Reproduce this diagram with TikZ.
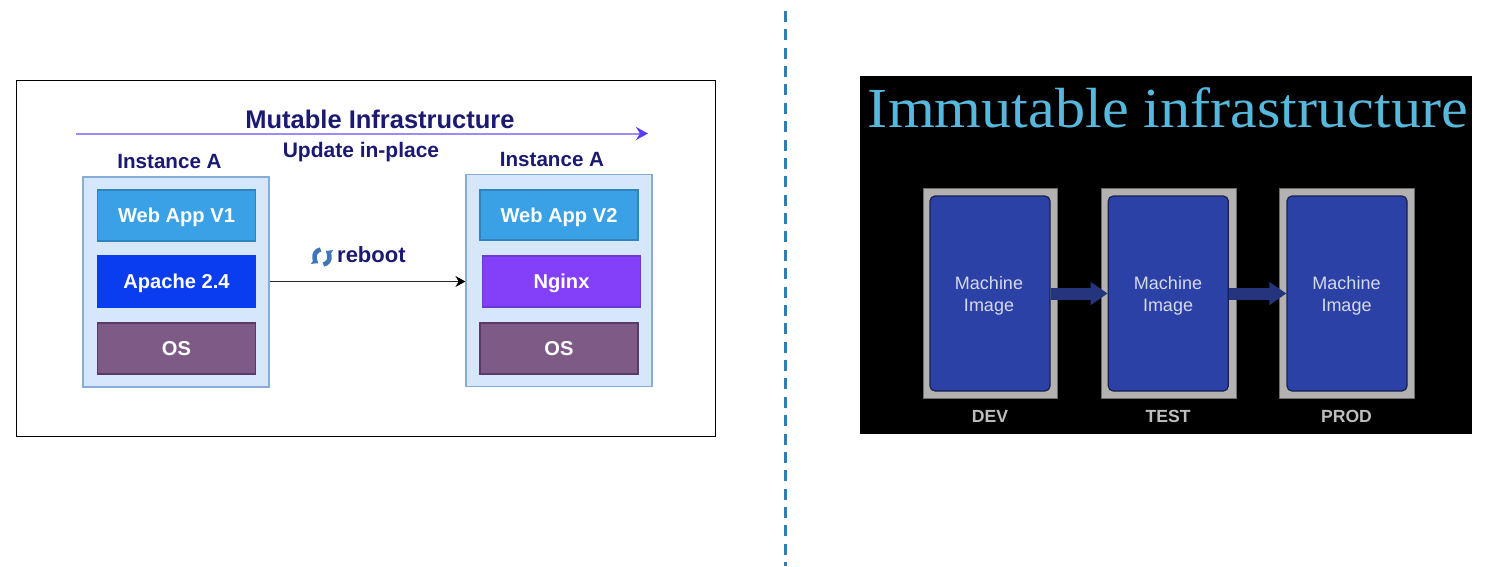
\documentclass[tikz,border=0pt]{standalone}
\usepackage{fontspec}
\setmainfont{Liberation Sans}
\newfontfamily\serifttl{Liberation Serif}
\usetikzlibrary{arrows.meta}
\definecolor{navy}{HTML}{1B1A70}
\definecolor{contfill}{HTML}{D6E6FB}
\definecolor{contline}{HTML}{86ACD8}
\definecolor{webfill}{HTML}{3BA1E6}
\definecolor{webline}{HTML}{2F84BE}
\definecolor{apfill}{HTML}{0A3CF0}
\definecolor{ngfill}{HTML}{8440F8}
\definecolor{ngline}{HTML}{6B38D0}
\definecolor{osfill}{HTML}{7E5B87}
\definecolor{osline}{HTML}{5A3A68}
\definecolor{arrowline}{HTML}{9A8CFF}
\definecolor{arrowtipc}{HTML}{5A3DFF}
\definecolor{dashblue}{HTML}{2F7DB3}
\definecolor{ttlblue}{HTML}{55B8DC}
\definecolor{framec}{HTML}{B4B2B0}
\definecolor{imgblue}{HTML}{2B41A6}
\definecolor{imgline}{HTML}{16214F}
\definecolor{imgarrow}{HTML}{24357E}
\definecolor{imgtext}{HTML}{D5D9EA}
\definecolor{envtext}{HTML}{BDBDBD}
\definecolor{iconc}{HTML}{3F76B8}
\tikzset{
  x=1pt,y=-1pt,
  lbl/.style={font=\bfseries\fontsize{20.6}{24}\selectfont,text=navy,inner sep=0pt},
  cont/.style={draw=contline,fill=contfill,line width=1.2pt,inner sep=0pt},
  layer/.style={minimum width=158pt,minimum height=51pt,inner sep=0pt,line width=1.1pt,
    text height=14.5pt,text depth=0pt,
    text=white,font=\bfseries\fontsize{20.1}{24}\selectfont},
  web/.style={layer,draw=webline,fill=webfill},
  apache/.style={layer,draw=apfill,fill=apfill},
  nginx/.style={layer,draw=ngline,fill=ngfill},
  osbox/.style={layer,draw=osline,fill=osfill},
  framebox/.style={draw=framec!60!black,fill=framec,line width=1pt,minimum width=134pt,minimum height=210pt,inner sep=0pt},
  imagebox/.style={draw=imgline,fill=imgblue,line width=1.2pt,rounded corners=5pt,minimum width=120pt,minimum height=195pt,inner sep=0pt},
  imagetxt/.style={inner sep=0pt,text=imgtext,align=center,font=\fontsize{18}{22}\selectfont},
  envlbl/.style={text=envtext,font=\bfseries\fontsize{17.6}{20}\selectfont,inner sep=0pt},
  flow/.style={draw=imgarrow,line width=12pt,-{Triangle[length=17pt,width=22pt,color=imgarrow]}},
  iconarc/.style={iconc,line width=4.5pt,-{Triangle[length=5pt,width=9pt,color=iconc]}},
}
\begin{document}
\begin{tikzpicture}
\useasboundingbox (0,0) rectangle (1502,566);
\fill[white] (0,0) rectangle (1502,566);
% divider
\coordinate (divtop) at (785,11);
\coordinate (divbot) at (785,566);
\draw[dashblue,line width=3pt,dash pattern=on 11pt off 7.37pt] (divtop) -- (divbot);
% left panel
\node[draw=black,line width=1.2pt,fill=white,minimum width=699pt,minimum height=356pt,inner sep=0pt] (leftframe) at (366,258.25) {};
\node[text=navy,font=\bfseries\fontsize{25.5}{28}\selectfont,inner sep=0pt] (mtitle) at (380,119.5) {Mutable Infrastructure};
\coordinate (ma) at (76,133.5);
\coordinate (mb) at (648,133.5);
\draw[arrowline,line width=2pt,-{Stealth[length=12pt,width=13pt,color=arrowtipc]}] (ma) -- (mb);
\node[lbl] (ia) at (169.5,161.5) {Instance A};
\node[lbl,font=\bfseries\fontsize{21}{24}\selectfont] (upd) at (361,152.5) {Update in-place};
\node[lbl] (ib) at (552,160) {Instance A};
\node[cont,minimum width=186pt,minimum height=210pt] (c1) at (176,282) {};
\node[cont,minimum width=186pt,minimum height=212pt] (c2) at (559,280.5) {};
\node[web] (w1) at (176.5,215.5) {Web App V1};
\node[apache] (ap) at (176.5,281.5) {Apache 2.4};
\node[osbox] (o1) at (176.5,348.5) {OS};
\node[web,minimum height=50pt] (w2) at (559,215) {Web App V2};
\node[nginx] (ng) at (561.5,281.5) {Nginx};
\node[osbox] (o2) at (559,348.5) {OS};
\draw[black!85,line width=1.2pt,-{Stealth[length=10pt,width=11pt,color=black]}] (c1.east |- ng) -- (c2.west |- ng);
\node[lbl,font=\bfseries\fontsize{22}{24}\selectfont,anchor=west] (rb) at (337,254.5) {reboot};
\node[minimum size=22pt,inner sep=0pt] (ic) at (322,257) {};
\draw[iconarc] ([shift={(-1.4,-7.5)}]ic.center) arc[start angle=100,end angle=235,radius=7.5pt];
\draw[iconarc] ([shift={(1.4,7.5)}]ic.center) arc[start angle=280,end angle=415,radius=7.5pt];
% right panel
\node[fill=black,minimum width=612pt,minimum height=358pt,inner sep=0pt] (rightpanel) at (1166,255) {};
\node[text=ttlblue,font=\serifttl\fontsize{60.2}{64}\selectfont,inner sep=0pt,anchor=base] (ititle) at (1168,127) {\scalebox{1}[0.94]{Immutable infrastructure}};
\node[framebox] (f1) at (990,293) {};
\node[framebox,minimum width=135pt] (f2) at (1168.5,293) {};
\node[framebox,minimum width=135pt] (f3) at (1346.5,293) {};
\node[imagebox] (i1) at (990,293.5) {};
\node[imagebox] (i2) at (1168.3,293.5) {};
\node[imagebox] (i3) at (1347,293.5) {};
\node[imagetxt] (t1) at (989,296) {Machine\\Image};
\node[imagetxt] (t2) at (1168,296) {Machine\\Image};
\node[imagetxt] (t3) at (1346.5,296) {Machine\\Image};
\draw[flow] (i1) -- (i2);
\draw[flow] (i2) -- (i3);
\node[envlbl] (d) at (990,416) {DEV};
\node[envlbl] (t) at (1168,416) {TEST};
\node[envlbl] (p) at (1346.5,416) {PROD};
\end{tikzpicture}
\end{document}
